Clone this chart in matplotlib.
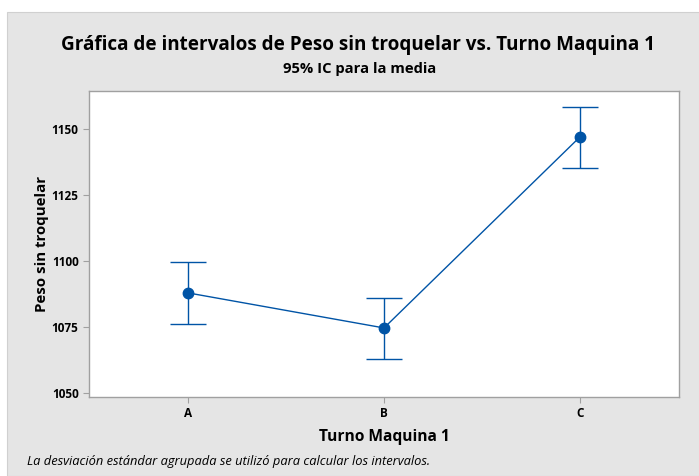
import numpy as np
import matplotlib.pyplot as plt
from matplotlib.patches import Rectangle

# datos
turnos = ["A", "B", "C"]
medias = [1087.9, 1074.6, 1147.1]
ic_sup = [1099.7, 1085.8, 1158.5]
ic_inf = [1076.1, 1063.0, 1135.1]
yticks = [1050, 1075, 1100, 1125, 1150]

azul = "#0054a6"
gris_fondo = "#e5e5e5"

plt.rcParams['font.family'] = ['Open Sans', 'DejaVu Sans']

fig = plt.figure(figsize=(6.99, 4.76), dpi=100)
fig.patch.set_facecolor("white")
# fondo gris con franja blanca arriba e izquierda
fig.patches.append(Rectangle((7 / 699, 0), 1, 1 - 12 / 476, transform=fig.transFigure,
                             facecolor=gris_fondo, edgecolor="#d0d0d0", lw=0.8, zorder=-10))

ax = fig.add_axes([89 / 699, 1 - 397 / 476, 590 / 699, 306 / 476])
ax.set_facecolor("white")

x = np.arange(len(turnos))
medias = np.array(medias)
err = [medias - np.array(ic_inf), np.array(ic_sup) - medias]

ax.plot(x, medias, color=azul, lw=1.0, zorder=2)
ax.errorbar(x, medias, yerr=err, fmt="o", color=azul, ecolor=azul, elinewidth=1.0,
            capsize=13, capthick=1.0, markersize=7.5, zorder=3)

ax.set_xlim(-0.505, 2.505)
ax.set_ylim(1048.4, 1164.5)
ax.set_xticks(x)
ax.set_xticklabels(turnos)
ax.set_yticks(yticks)
ax.set_yticklabels([str(v) for v in yticks])

for s in ax.spines.values():
    s.set_color("#a0a0a0")
    s.set_linewidth(1.0)
ax.tick_params(colors="#a0a0a0", length=4, width=0.8, labelcolor="black", labelsize=8.5)
for lab in ax.get_xticklabels() + ax.get_yticklabels():
    lab.set_fontweight("bold")

ax.set_xlabel("Turno Maquina 1", fontsize=11.2, fontweight="bold", labelpad=6)
ax.set_ylabel("Peso sin troquelar", fontsize=10.8, fontweight="bold", labelpad=2)

fig.text(358 / 699, 1 - 45 / 476, "Gráfica de intervalos de Peso sin troquelar vs. Turno Maquina 1",
         ha="center", va="center", fontsize=13.6, fontweight="bold")
fig.text(360 / 699, 1 - 69 / 476, "95% IC para la media",
         ha="center", va="center", fontsize=10.6, fontweight="bold")
fig.text(27 / 699, 1 - 462 / 476,
         "La desviación estándar agrupada se utilizó para calcular los intervalos.",
         ha="left", va="center", fontsize=9.3, style="italic")

fig.savefig("out.png", dpi=100, facecolor=fig.get_facecolor())
